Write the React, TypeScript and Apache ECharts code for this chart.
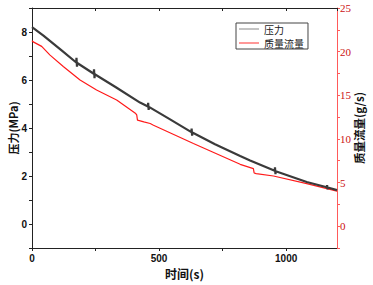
import React, { useEffect, useRef } from "react";
import * as echarts from "echarts";

const pressureTime = [0, 45, 120, 174, 175, 177, 178, 243, 244, 246, 247, 330, 425, 456, 457, 459, 460, 540, 627, 628, 630, 631, 720, 819, 858, 955, 956, 958, 959, 1081, 1160, 1161, 1163, 1164, 1200];
const pressureValue = [8.2, 7.85, 7.2, 6.73, 6.92, 6.55, 6.71, 6.26, 6.45, 6.08, 6.24, 5.7, 5.06, 4.9, 5.05, 4.75, 4.88, 4.38, 3.83, 3.98, 3.68, 3.81, 3.32, 2.83, 2.65, 2.22, 2.36, 2.08, 2.2, 1.75, 1.53, 1.62, 1.44, 1.52, 1.41];

const flowTime = [0, 3, 38, 71, 123, 189, 254, 333, 408, 412, 415, 440, 465, 478, 635, 819, 871, 874, 882, 950, 1081, 1200];
const flowValue = [21.25, 21.15, 20.6, 19.6, 18.3, 16.75, 15.6, 14.45, 12.9, 12.75, 12.15, 11.95, 11.77, 11.57, 9.47, 7.09, 6.6, 6.1, 6.02, 5.75, 4.87, 4.02];

const seriesNames = ["压力", "质量流量"];
const axisNames = { x: "时间(s)", left: "压力(MPa)", right: "质量流量(g/s)" };

export default function App() {
  const ref = useRef<HTMLDivElement>(null);
  useEffect(() => {
    if (!ref.current) return;
    const chart = echarts.init(ref.current, undefined, { renderer: "svg" });
    const cjk = "Noto Sans CJK SC";
    chart.setOption({
      animation: false,
      backgroundColor: "#ffffff",
      grid: { left: 32, top: 8, right: 36, bottom: 37, containLabel: false, outerBoundsMode: "none" },
      legend: {
        left: 236,
        top: 23,
        orient: "vertical",
        icon: "rect",
        itemWidth: 20,
        itemHeight: 1,
        itemGap: 2,
        padding: [0, 4, 0, 3],
        borderColor: "#444",
        borderWidth: 1,
        borderRadius: 0,
        textStyle: { fontSize: 10, lineHeight: 12, fontFamily: cjk, color: "#222" },
        data: [
          { name: seriesNames[0], itemStyle: { color: "#888" } },
          { name: seriesNames[1], itemStyle: { color: "#ff3030" } },
        ],
      },
      xAxis: [
        {
          type: "value",
          min: 0,
          max: 1200,
          interval: 250,
          position: "bottom",
          name: axisNames.x,
          nameLocation: "middle",
          nameGap: 19,
          nameMoveOverlap: false,
          nameTextStyle: { fontFamily: cjk, fontSize: 12, fontWeight: "bold", color: "#111" },
          axisLine: { show: true, onZero: false, lineStyle: { color: "#222", width: 1 } },
          axisTick: { show: true, inside: false, length: 3, lineStyle: { color: "#222" } },
          axisLabel: {
            fontSize: 10,
            fontWeight: "bold",
            fontFamily: "Liberation Sans",
            color: "#111",
            margin: 5,
            showMaxLabel: false,
            formatter: (v: number) => (v % 500 === 0 ? String(v) : ""),
          },
          splitLine: { show: false },
        },
        {
          type: "value",
          min: 0,
          max: 1200,
          interval: 250,
          position: "top",
          axisLine: { show: true, onZero: false, lineStyle: { color: "#222", width: 1 } },
          axisTick: { show: true, inside: true, length: 3, lineStyle: { color: "#222" } },
          axisLabel: { show: false },
          splitLine: { show: false },
        },
      ],
      yAxis: [
        {
          type: "value",
          min: -1,
          max: 9,
          interval: 1,
          position: "left",
          name: axisNames.left,
          nameLocation: "middle",
          nameGap: 14,
          nameMoveOverlap: false,
          nameRotate: 90,
          nameTextStyle: { fontFamily: cjk, fontSize: 11, fontWeight: "bold", color: "#111" },
          axisLine: { show: true, onZero: false, lineStyle: { color: "#222", width: 1 } },
          axisTick: { show: true, inside: false, length: 3, lineStyle: { color: "#222" } },
          axisLabel: {
            fontSize: 10,
            fontWeight: "bold",
            fontFamily: "Liberation Sans",
            color: "#111",
            margin: 5,
            formatter: (v: number) => (Math.round(v) % 2 === 0 ? String(Math.round(v)) : ""),
          },
          splitLine: { show: false },
        },
        {
          type: "value",
          min: -2.5,
          max: 25,
          interval: 2.5,
          position: "right",
          name: axisNames.right,
          nameLocation: "middle",
          nameGap: 16,
          nameMoveOverlap: false,
          nameRotate: 90,
          nameTextStyle: { fontFamily: cjk, fontSize: 11.5, fontWeight: "bold", color: "#111" },
          axisLine: { show: true, onZero: false, lineStyle: { color: "#ff5a5a", width: 1 } },
          axisTick: { show: true, inside: false, length: 3, lineStyle: { color: "#ff5a5a" } },
          axisLabel: {
            fontSize: 11,
            fontFamily: "Liberation Serif",
            color: "#cc1111",
            margin: 3,
            formatter: (v: number) => {
              const r = Math.round(v * 10) / 10;
              return r % 5 === 0 ? String(r) : "";
            },
          },
          splitLine: { show: false },
        },
      ],
      series: [
        {
          name: seriesNames[0],
          type: "line",
          xAxisIndex: 0,
          yAxisIndex: 0,
          symbol: "none",
          smooth: false,
          lineStyle: { color: "#3a3a3a", width: 2.2 },
          itemStyle: { color: "#3a3a3a" },
          data: pressureTime.map((t, i) => [t, pressureValue[i]]),
          z: 3,
        },
        {
          name: seriesNames[1],
          type: "line",
          xAxisIndex: 0,
          yAxisIndex: 1,
          symbol: "none",
          smooth: false,
          lineStyle: { color: "#ff1a1a", width: 1.2 },
          itemStyle: { color: "#ff1a1a" },
          data: flowTime.map((t, i) => [t, flowValue[i]]),
          z: 2,
        },
      ],
    });
    return () => chart.dispose();
  }, []);
  return <div ref={ref} style={{ width: 373, height: 285, position: "absolute", left: 0, top: 0 }} />;
}
